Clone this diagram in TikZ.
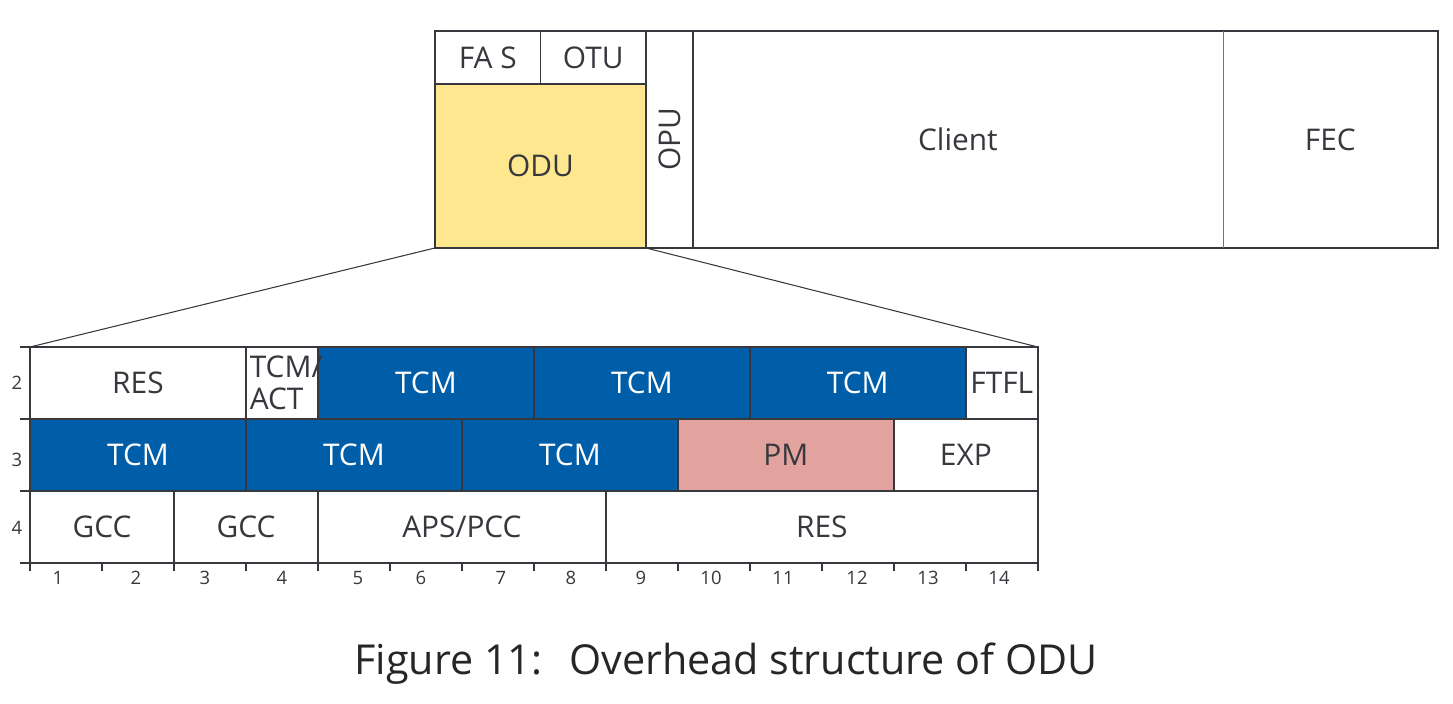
\documentclass[tikz,border=0pt]{standalone}
\usepackage{fontspec}
\setmainfont{Open Sans}
\usepackage{tikz}
\usetikzlibrary{positioning}
\definecolor{framegray}{HTML}{36383E}
\definecolor{tcmblue}{HTML}{005EA8}
\definecolor{oduyellow}{HTML}{FFE78F}
\definecolor{pmrose}{HTML}{E2A39F}

\begin{document}
\begin{tikzpicture}[x=0.02cm, y=-0.02cm,
    cell/.style={draw=framegray, line width=0.8pt, inner sep=0pt, outer sep=0pt,
        text=framegray, font=\fontsize{17}{19}\selectfont},
    ohcell/.style={cell, minimum height=1.44cm},
    tcmcell/.style={ohcell, fill=tcmblue, text=white},
    smallnum/.style={text=framegray, font=\fontsize{10.5}{12}\selectfont}]
    \useasboundingbox (0,0) rectangle (1453,703);

    % frame of the OTU
    \node[cell, anchor=north west, minimum width=2.11cm, minimum height=1.06cm] (fas) at (435,31) {FA S};
    \node[cell, right=0pt of fas, minimum width=2.11cm, minimum height=1.06cm] (otu) {OTU};
    \node[cell, below=0pt of fas.south west, anchor=north west, fill=oduyellow,
        minimum width=4.22cm, minimum height=3.28cm] (odu) {ODU};
    \node[cell, right=0pt of otu.north east, anchor=north west,
        minimum width=0.94cm, minimum height=4.34cm] (opu) {\rotatebox{90}{OPU}};
    \node[cell, draw=none, right=0pt of opu, minimum width=10.6cm, minimum height=4.34cm] (client) {Client};
    \node[cell, draw=none, right=0pt of client, minimum width=4.3cm, minimum height=4.34cm] (fec) {FEC};
    \draw[framegray, line width=0.8pt] (opu.north east) rectangle (fec.south east);
    \draw[framegray!70, line width=0.4pt] (client.north east) -- (client.south east);

    % row 2
    \node[ohcell, anchor=north west, minimum width=4.32cm] (res2) at (30,347) {RES};
    \node[ohcell, right=0pt of res2, minimum width=1.44cm] (act) {};
    \node[tcmcell, right=0pt of act, minimum width=4.32cm] (tcm2a) {TCM};
    \node[tcmcell, right=0pt of tcm2a, minimum width=4.32cm] (tcm2b) {TCM};
    \node[tcmcell, right=0pt of tcm2b, minimum width=4.32cm] (tcm2c) {TCM};
    \node[ohcell, right=0pt of tcm2c, minimum width=1.44cm] (ftfl) {FTFL};
    \node[text=framegray, font=\fontsize{17}{18.5}\selectfont, align=left, anchor=west, inner sep=2pt]
        (acttext) at (act.west) {TCM/\\ACT};

    % row 3
    \node[tcmcell, below=0pt of res2, minimum width=4.32cm] (tcm3a) {TCM};
    \node[tcmcell, right=0pt of tcm3a, minimum width=4.32cm] (tcm3b) {TCM};
    \node[tcmcell, right=0pt of tcm3b, minimum width=4.32cm] (tcm3c) {TCM};
    \node[ohcell, right=0pt of tcm3c, fill=pmrose, minimum width=4.32cm] (pm) {PM};
    \node[ohcell, right=0pt of pm, minimum width=2.88cm] (exp) {EXP};

    % row 4
    \node[ohcell, below=0pt of tcm3a.south west, anchor=north west, minimum width=2.88cm] (gcca) {GCC};
    \node[ohcell, right=0pt of gcca, minimum width=2.88cm] (gccb) {GCC};
    \node[ohcell, right=0pt of gccb, minimum width=5.76cm] (aps) {APS/PCC};
    \node[ohcell, right=0pt of aps, minimum width=8.64cm] (res4) {RES};

    % zoom lines
    \draw[framegray, line width=0.6pt] (odu.south west) -- (res2.north west);
    \draw[framegray, line width=0.6pt] (odu.south east) -- (ftfl.north east);

    % ticks and numbers
    \foreach \ty in {347,419,491,563}
        \draw[framegray, line width=0.8pt] (20,\ty) -- (30,\ty);
    \foreach \k in {0,...,14}
        \draw[framegray, line width=0.8pt] (30+72*\k,563) -- (30+72*\k,571);
    \node[smallnum] (row2) at (17,383) {2};
    \node[smallnum] (row3) at (17,460) {3};
    \node[smallnum] (row4) at (17,528) {4};
    \foreach \n/\nx in {1/58,2/136,3/205,4/282,5/358,6/421,7/501,8/571,9/641,10/711,11/783,12/857,13/928,14/999}
        \node[smallnum] (col\n) at (\nx,578) {\n};

    \node[text=black!85, font=\fontsize{23.5}{26}\selectfont] (caption) at (726,664)
        {Figure 11:\hspace{0.65em}Overhead structure of ODU};
\end{tikzpicture}
\end{document}
